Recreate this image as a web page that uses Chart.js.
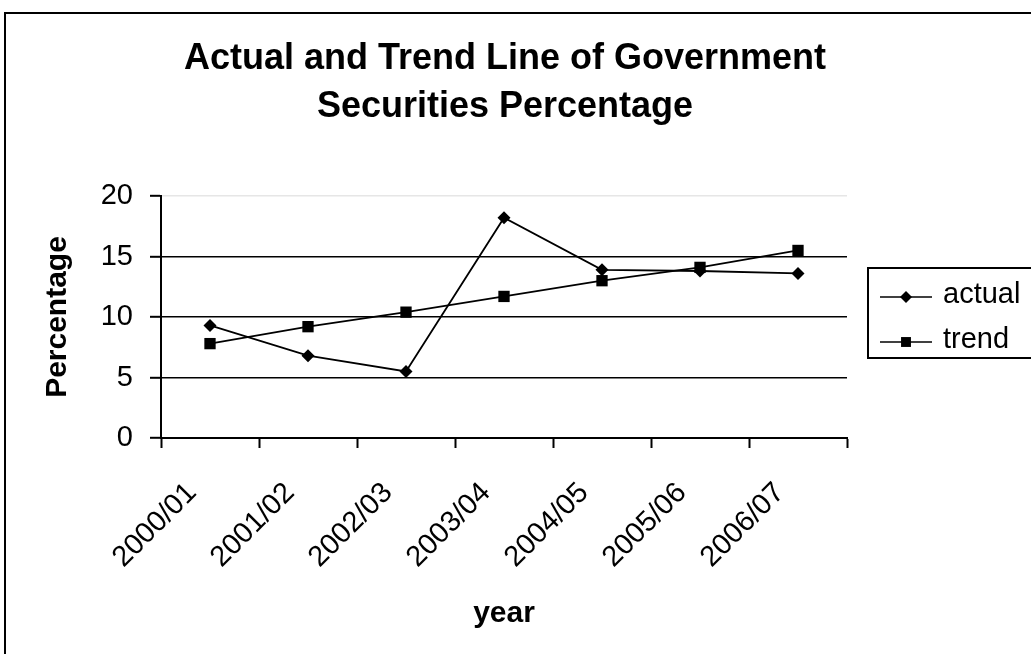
<!DOCTYPE html>
<html>
<head>
<meta charset="utf-8">
<title>Government Securities Percentage</title>
<script src="https://cdn.jsdelivr.net/npm/chart.js@4.4.1/dist/chart.umd.min.js"></script>
<style>
  html, body { margin: 0; padding: 0; background: #fff; }
  #wrap { position: relative; width: 1031px; height: 654px; }
</style>
</head>
<body>
<div id="wrap"><canvas id="chart"></canvas></div>
<script>
// categories and series
const years = ['2000/01', '2001/02', '2002/03', '2003/04', '2004/05', '2005/06', '2006/07'];
const actual = [9.3, 6.8, 5.5, 18.2, 13.9, 13.8, 13.6];
const trend = [7.8, 9.2, 10.4, 11.7, 13.0, 14.1, 15.5];
const yTicks = [0, 5, 10, 15, 20];
const titleLines = ['Actual and Trend Line of Government', 'Securities Percentage'];

const FONT = "'Liberation Sans', Arial, sans-serif";

document.addEventListener('DOMContentLoaded', () => {
    const ctx = document.getElementById('chart');

    // white page + the outer chart frame (runs off the right/bottom edge)
    const framePlugin = {
        id: 'frame',
        beforeDraw(chart) {
            const c = chart.ctx;
            c.save();
            c.fillStyle = '#fff';
            c.fillRect(0, 0, chart.width, chart.height);
            c.strokeStyle = '#000';
            c.lineWidth = 2;
            c.strokeRect(5, 13, chart.width + 20, chart.height + 20);
            c.restore();
        }
    };

    // two-line title, centred over the whole frame rather than the plot
    const bigTitle = {
        id: 'bigTitle',
        afterDraw(chart) {
            const c = chart.ctx;
            c.save();
            c.fillStyle = '#000';
            c.font = 'bold 36px ' + FONT;
            c.textAlign = 'center';
            c.textBaseline = 'alphabetic';
            titleLines.forEach((line, i) => c.fillText(line, 505, 69 + i * 48));
            c.restore();
        }
    };

    // boxed legend with line + marker samples
    const boxLegend = {
        id: 'boxLegend',
        afterDraw(chart) {
            const c = chart.ctx;
            c.save();
            c.strokeStyle = '#000';
            c.lineWidth = 2;
            c.strokeRect(868, 268, 200, 90);

            chart.data.datasets.forEach((ds, i) => {
                const y = 297 + i * 45;
                c.strokeStyle = '#000';
                c.lineWidth = 1.6;
                c.beginPath();
                c.moveTo(880, y);
                c.lineTo(932, y);
                c.stroke();
                c.fillStyle = '#000';
                Chart.helpers.drawPoint(c, {
                    pointStyle: ds.pointStyle,
                    radius: ds.pointStyle === 'rect' ? 7 : 6,
                    rotation: 0,
                    borderWidth: 0
                }, 906, y);
                c.font = '29px ' + FONT;
                c.textBaseline = 'alphabetic';
                c.textAlign = 'left';
                c.fillText(ds.label, 943, y + 6);
            });
            c.restore();
        }
    };

    new Chart(ctx, {
        type: 'line',
        data: {
            labels: years,
            datasets: [
                {
                    label: 'actual',
                    data: actual,
                    borderColor: '#000',
                    backgroundColor: '#000',
                    borderWidth: 1.8,
                    pointStyle: 'rectRot',
                    pointRadius: 6.5,
                    pointBorderWidth: 0,
                    tension: 0
                },
                {
                    label: 'trend',
                    data: trend,
                    borderColor: '#000',
                    backgroundColor: '#000',
                    borderWidth: 1.8,
                    pointStyle: 'rect',
                    pointRadius: 8,
                    pointBorderWidth: 0,
                    tension: 0
                }
            ]
        },
        options: {
            responsive: true,
            maintainAspectRatio: false,
            animation: false,
            layout: { padding: { left: 0, top: 196, right: 184, bottom: 0 } },
            plugins: {
                legend: { display: false },
                tooltip: { enabled: false },
                title: { display: false }
            },
            scales: {
                x: {
                    offset: true,
                    grid: {
                        offset: true,
                        drawOnChartArea: false,
                        tickLength: 10,
                        tickColor: '#000',
                        tickWidth: 2
                    },
                    border: { color: '#000', width: 2 },
                    ticks: {
                        color: '#000',
                        font: { family: FONT, size: 29 },
                        minRotation: 45,
                        maxRotation: 45,
                        autoSkip: false,
                        padding: 28,
                        labelOffset: -18
                    },
                    title: {
                        display: true,
                        text: 'year',
                        color: '#000',
                        font: { family: FONT, size: 30, weight: 'bold' },
                        padding: { top: 22, bottom: 22 }
                    },
                    afterFit: (scale) => { scale.height = 216; }
                },
                y: {
                    min: 0,
                    max: 20,
                    afterBuildTicks: (scale) => { scale.ticks = yTicks.map(v => ({ value: v })); },
                    grid: {
                        color: (c) => c.tick && c.tick.value === 20 ? '#e6e6e6' : '#000',
                        lineWidth: 1.6,
                        tickLength: 11,
                        tickColor: '#000',
                        tickWidth: 2
                    },
                    border: { color: '#000', width: 2 },
                    ticks: {
                        color: '#000',
                        font: { family: FONT, size: 29 },
                        padding: 17
                    },
                    title: {
                        display: true,
                        text: 'Percentage',
                        color: '#000',
                        font: { family: FONT, size: 30, weight: 'bold' },
                        padding: { top: 40, bottom: 40 }
                    },
                    afterFit: (scale) => { scale.width = 161; }
                }
            }
        },
        plugins: [framePlugin, bigTitle, boxLegend]
    });
});
</script>
</body>
</html>
